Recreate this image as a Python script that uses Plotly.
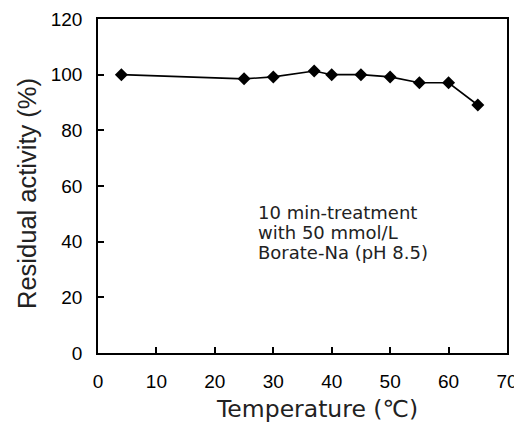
import plotly.graph_objects as go

temperature = [4, 25, 30, 37, 40, 45, 50, 55, 60, 65]
residual_activity = [100, 98.5, 99.2, 101.3, 100, 100, 99.2, 97.1, 97.1, 89.1]
x_ticks = [0, 10, 20, 30, 40, 50, 60, 70]
y_ticks = [0, 20, 40, 60, 80, 100, 120]
note_lines = ["10 min-treatment", "with 50 mmol/L", "Borate-Na (pH 8.5)"]
x_title = "Temperature (℃)"
y_title = "Residual activity (%)"

fig = go.Figure()
fig.add_trace(go.Scatter(
    x=temperature, y=residual_activity, mode="lines+markers",
    line=dict(color="black", width=1.6),
    marker=dict(symbol="diamond", size=10, color="black"),
    showlegend=False,
))

# note text, one annotation per line for precise line spacing
note_y_mid = 43.2
note_step = 7.2
for i, line in enumerate(note_lines):
    fig.add_annotation(
        x=27.0, y=note_y_mid + (1 - i) * note_step, xref="x", yref="y",
        xanchor="left", yanchor="middle",
        text=line, showarrow=False, align="left",
        font=dict(family="DejaVu Sans", size=18, color="#222"),
    )

# axis titles as annotations for precise placement
fig.add_annotation(
    x=0.535, y=-0.168, xref="paper", yref="paper", xanchor="center", yanchor="middle",
    text=x_title, showarrow=False,
    font=dict(family="DejaVu Sans", size=23.5, color="#222"),
)
fig.add_annotation(
    x=-0.172, y=0.478, xref="paper", yref="paper", xanchor="center", yanchor="middle",
    text=y_title, showarrow=False, textangle=-90,
    font=dict(family="Liberation Sans, Arial", size=25.5, color="#222"),
)

axis_common = dict(
    showline=True, linecolor="black", linewidth=1.6, mirror=True,
    ticks="inside", ticklen=6, tickwidth=1.6, tickcolor="black",
    showgrid=False, zeroline=False, automargin=False,
    tickfont=dict(family="Liberation Sans, Arial", size=19, color="black"),
    ticklabelstandoff=10,
)

fig.update_xaxes(range=[0, 70], tickvals=x_ticks, **axis_common)
fig.update_yaxes(range=[0, 120], tickvals=y_ticks, **axis_common)

fig.update_layout(
    width=514, height=416,
    margin=dict(l=90, r=15, t=11, b=71),
    plot_bgcolor="white", paper_bgcolor="white",
)

fig.write_html("out.html")
